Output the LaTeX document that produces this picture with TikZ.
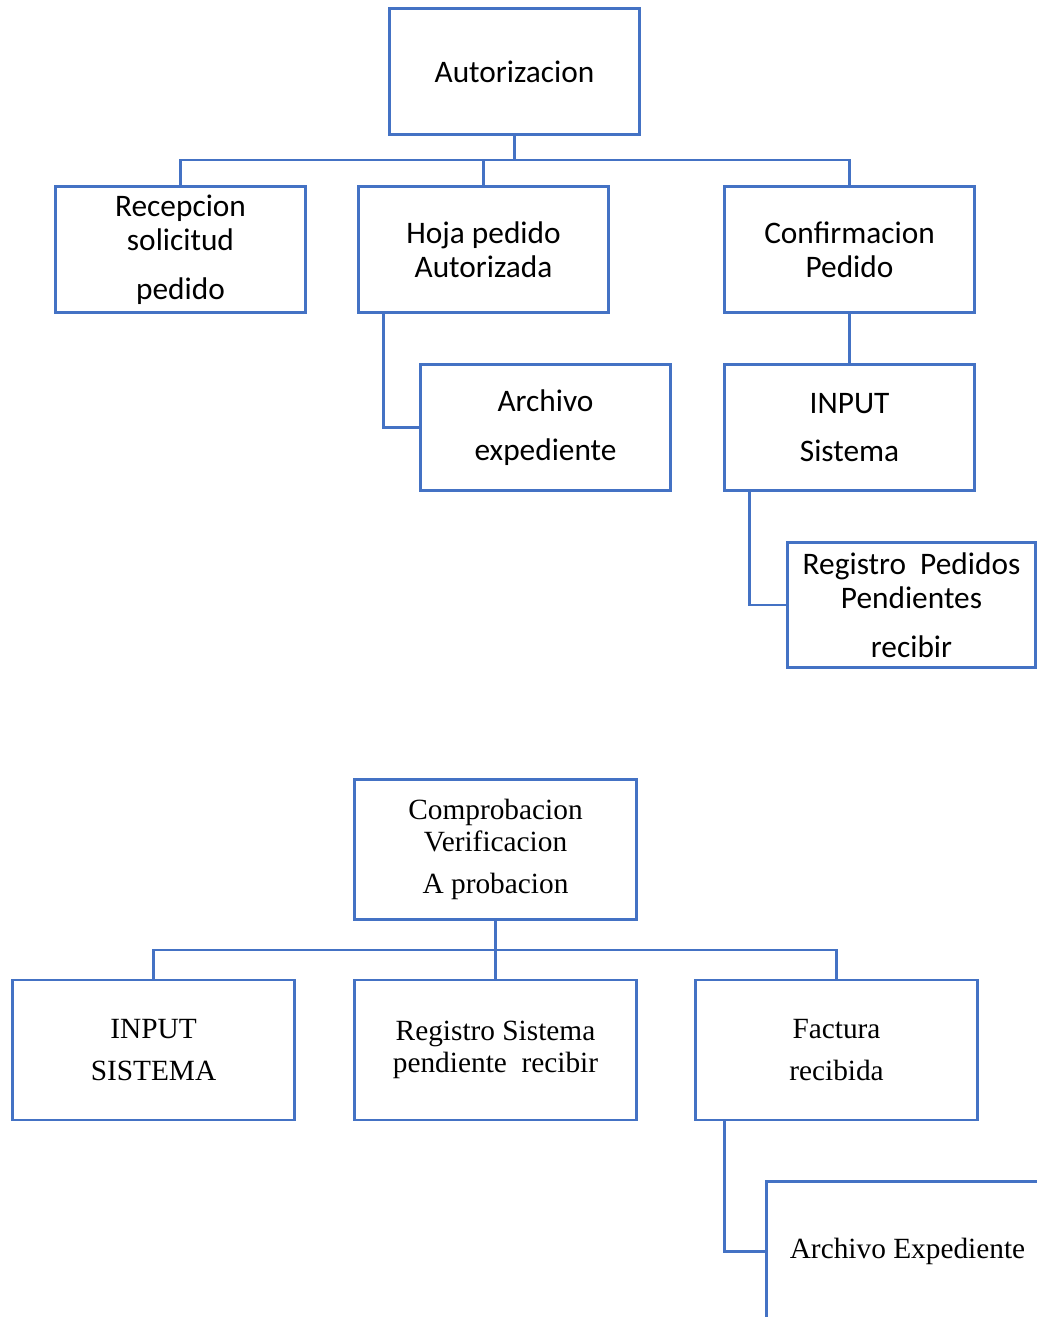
\documentclass[tikz,border=0pt]{standalone}
\usepackage{fontspec}
\setmainfont{Liberation Serif}
\newfontfamily\calibri{Carlito}
\usepackage{xcolor}
\definecolor{Office-blue}{RGB}{68, 114, 196}
\usetikzlibrary{positioning,calc}

\begin{document}
\begin{tikzpicture} [
    x=0.75pt, y=-0.75pt,
    line width=2.2pt, draw=Office-blue,
    box/.style = {rectangle,draw=Office-blue,line width=2.2pt,minimum width=188pt,minimum height=94pt,align=center,
                  font=\calibri\fontsize{23.5}{25.5}\selectfont},
    tbox/.style = {rectangle,draw=Office-blue,line width=2.2pt,minimum width=212pt,minimum height=105pt,align=center,
                   font=\fontsize{22}{23.5}\selectfont}
    ]

    \useasboundingbox (0,0) rectangle (1037,1317);
    \clip (0,0) rectangle (1037,1317);

    % upper chart
    \node (auto) [box] at (514.5, 71.5) {Autorizacion};

    \node (recep) [box] at (180.5, 249.5) {Recepcion\\solicitud\\[11pt]pedido};
    \node (hoja)  [box] at (483.5, 249.5) {Hoja pedido\\Autorizada};
    \node (conf)  [box] at (849.5, 249.5) {Confirmacion\\Pedido};

    \node (arch)  [box] at (545.5, 427.5) {Archivo\\[11pt]expediente};
    \node (input) [box] at (849.5, 427.5) {INPUT\\[11pt]Sistema};

    \node (reg)   [box,minimum width=186pt] at (911.5, 605) {Registro\ \ Pedidos\\Pendientes\\[11pt]recibir};

    \coordinate (bus1) at (0, 160);

    \draw (auto.south) -- (auto.south |- bus1);
    \draw (recep.north) -- (recep.north |- bus1) -- (conf.north |- bus1) -- (conf.north);
    \draw (hoja.north) -- (hoja.north |- bus1);
    \draw ([xshift=20.25pt]hoja.south west) |- (arch.west);
    \draw (conf.south) -- (input.north);
    \draw ([xshift=20.25pt]input.south west) |- (reg.west);

    % lower chart
    \node (comp) [tbox] at (495.5, 849.5) {Comprobacion\\Verificacion\\[8pt]A probacion};

    \node (insis) [tbox] at (153.5, 1050) {INPUT\\[8pt]SISTEMA};
    \node (regsis) [tbox] at (495.5, 1050) {Registro Sistema\\pendiente\ \ recibir};
    \node (fact)  [tbox] at (836.5, 1050) {Factura\\[8pt]recibida};

    \node (archexp) [tbox] at (907.5, 1251.5) {Archivo Expediente};

    \coordinate (bus2) at (0, 950);

    \draw (comp.south) -- (comp.south |- bus2);
    \draw (insis.north) -- (insis.north |- bus2) -- (fact.north |- bus2) -- (fact.north);
    \draw (regsis.north) -- (regsis.north |- bus2);
    \draw ([xshift=23.25pt]fact.south west) |- (archexp.west);

\end{tikzpicture}
\end{document}
